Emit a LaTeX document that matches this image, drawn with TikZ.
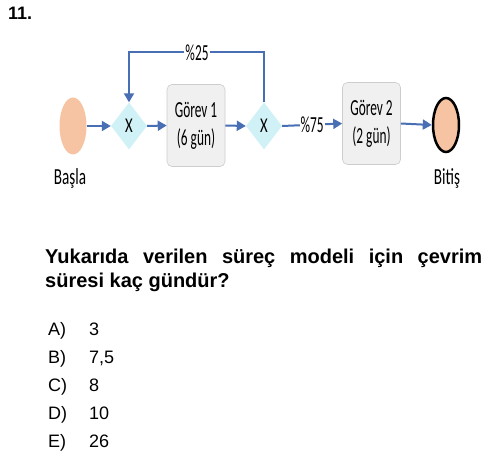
\documentclass[tikz,border=0pt]{standalone}
\usepackage{fontspec}
\setmainfont{Liberation Sans}
\newfontfamily\calibri{Carlito}
\usetikzlibrary{positioning}
\usetikzlibrary{shapes.geometric}
\usetikzlibrary{arrows.meta}

\definecolor{peach}{RGB}{246,196,162}
\definecolor{gatecyan}{RGB}{208,242,246}
\definecolor{taskgray}{RGB}{240,240,240}
\definecolor{taskedge}{RGB}{205,205,205}
\definecolor{flowblue}{RGB}{72,110,180}
\newcommand{\narrow}[2][0.58]{\scalebox{#1}[1]{#2}}

\begin{document}
\begin{tikzpicture}[x = 1pt, y = -1pt, baseline = 0,
		flow/.style = {draw = flowblue, line width = 2pt, -{Triangle[length = 9pt, width = 10pt]}},
		gate/.style = {diamond, fill = gatecyan, minimum width = 36pt, minimum height = 47pt, inner sep = 0pt, font = \calibri\fontsize{21}{21}\selectfont},
		task/.style = {rectangle, rounded corners = 5pt, draw = taskedge, line width = 0.6pt, fill = taskgray, minimum width = 58pt, minimum height = 82pt, align = center, font = \calibri\fontsize{23}{28}\selectfont},
		event/.style = {ellipse, fill = peach, minimum width = 27pt, minimum height = 57pt, inner sep = 0pt},
		lbl/.style = {inner sep = 1pt, font = \calibri\fontsize{23}{26}\selectfont},
		question/.style = {anchor = base west, inner sep = 0pt, font = \bfseries\fontsize{20}{24}\selectfont},
		choice/.style = {anchor = base west, inner sep = 0pt, font = \fontsize{18}{22}\selectfont}]
				\fill[white] (0, 0) rectangle (500, 457);
				\useasboundingbox (0, 0) rectangle (500, 457);
				\node[anchor = base west, inner sep = 0pt, font = \bfseries\fontsize{18}{22}\selectfont] (num) at (8, 20) {11.};
				% process model
				\node[event] (start) at (73, 126) {};
				\node[gate] (gateA) at (129, 126) {\narrow[0.7]{X}};
				\node[task] (task1) at (196, 125.5) {\narrow{Görev 1}\\\narrow{(6 gün)}};
				\node[gate] (gateB) at (264, 126) {\narrow[0.7]{X}};
				\node[task] (task2) at (371.5, 123.5) {\narrow{Görev 2}\\\narrow{(2 gün)}};
				\node[event, draw = black, line width = 2.5pt, minimum width = 26pt, minimum height = 54pt] (finish) at (446, 125) {};
				\node[lbl, anchor = base] (startlbl) at (70, 185) {\narrow[0.66]{Başla}};
				\node[lbl, anchor = base] (finishlbl) at (447, 185) {\narrow[0.66]{Bitiş}};
				\draw[flow] (start.east) -- (gateA.west);
				\draw[flow] (gateA.east) -- (task1.west);
				\draw[flow] (task1.east) -- (gateB.west);
				\draw[flow] (gateB.east) -- node[lbl, fill = white] (p75) {\narrow{\%75}} (task2.west);
				\draw[flow] (task2.east) -- (finish.west);
				\draw[flow] (gateB.north) -- ++(0, -50) coordinate (turn) -| (gateA.north);
				\node[lbl, fill = white] (p25) at (197, 53) {\narrow{\%25}};
				% question and choices
				\node[question] (qline1) at (45, 263) {\makebox[437pt][s]{Yukarıda verilen süreç modeli için çevrim}};
				\node[question] (qline2) at (45, 287) {süresi kaç gündür?};
				\node[choice] (keyA) at (48, 335) {A)};
				\node[choice] (valA) at (89, 335) {3};
				\node[choice] (keyB) at (48, 363) {B)};
				\node[choice] (valB) at (89, 363) {7,5};
				\node[choice] (keyC) at (48, 391) {C)};
				\node[choice] (valC) at (89, 391) {8};
				\node[choice] (keyD) at (48, 419) {D)};
				\node[choice] (valD) at (89, 419) {10};
				\node[choice] (keyE) at (48, 447) {E)};
				\node[choice] (valE) at (89, 447) {26};
			\end{tikzpicture}
\end{document}
